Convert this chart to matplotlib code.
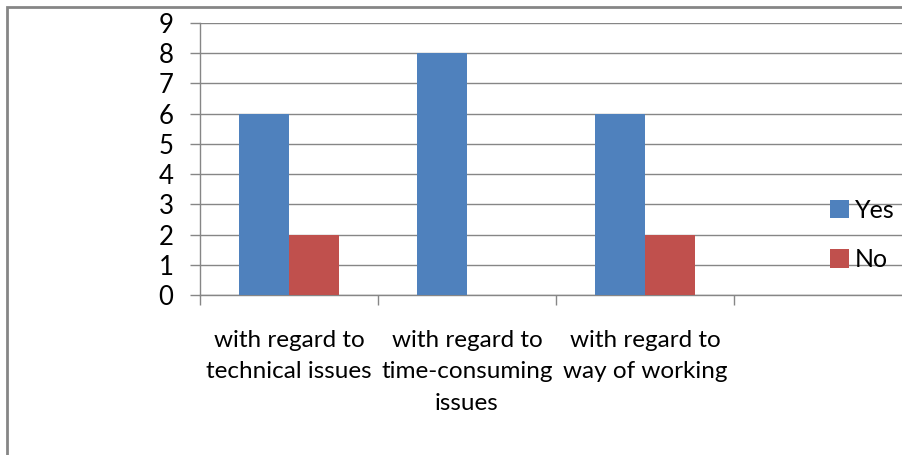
import numpy as np
import matplotlib.pyplot as plt
from matplotlib.patches import Rectangle

categories = ['with regard to\ntechnical issues', 'with regard to\ntime-consuming\nissues',
              'with regard to\nway of working', '']
yes = [6, 8, 6, 0]
no = [2, 0, 2, 0]

blue = '#4F81BD'
red = '#C0504D'
grey = '#868686'

plt.rcParams['font.family'] = ['Lato', 'DejaVu Sans']

fig = plt.figure(figsize=(9.03, 4.55), dpi=100)
ax = fig.add_axes([200/903, 1-295/455, 712/903, 272/455])

x = np.arange(len(categories))
w = 0.28
ax.bar(x - w/2, yes, w, color=blue, label='Yes', zorder=3)
ax.bar(x + w/2, no, w, color=red, label='No', zorder=3)

ax.set_xlim(-0.5, len(categories) - 0.5)
ax.set_ylim(0, 9)
ax.set_yticks(range(10))
ax.set_xticks(np.arange(len(categories) + 1) - 0.5, minor=False)
ax.set_xticklabels([])
ax.set_xticks(x, minor=True)
ax.set_xticklabels(categories, minor=True, fontsize=17.5, linespacing=1.62)
ax.tick_params(axis='x', which='minor', length=0, pad=25)
ax.tick_params(axis='x', which='major', length=7, color=grey, width=1)
ax.tick_params(axis='y', length=7, color=grey, width=1, labelsize=18.5, pad=12)
ax.grid(axis='y', color=grey, lw=1, zorder=0)
for s in ['top', 'right']:
    ax.spines[s].set_visible(False)
for s in ['left', 'bottom']:
    ax.spines[s].set_color(grey)
    ax.spines[s].set_linewidth(1)

fig.legend(loc='upper left', bbox_to_anchor=(830/903, 1-199/455), frameon=False,
           fontsize=18, handlelength=0.75, handleheight=0.75, handletextpad=0.25,
           labelspacing=1.05, borderpad=0, borderaxespad=0)

fig.patches.append(Rectangle((7/903, -0.1), 1.2, 1-7/455 + 0.1, transform=fig.transFigure,
                             fill=False, edgecolor=grey, lw=2))

fig.savefig('out.png', dpi=100)
